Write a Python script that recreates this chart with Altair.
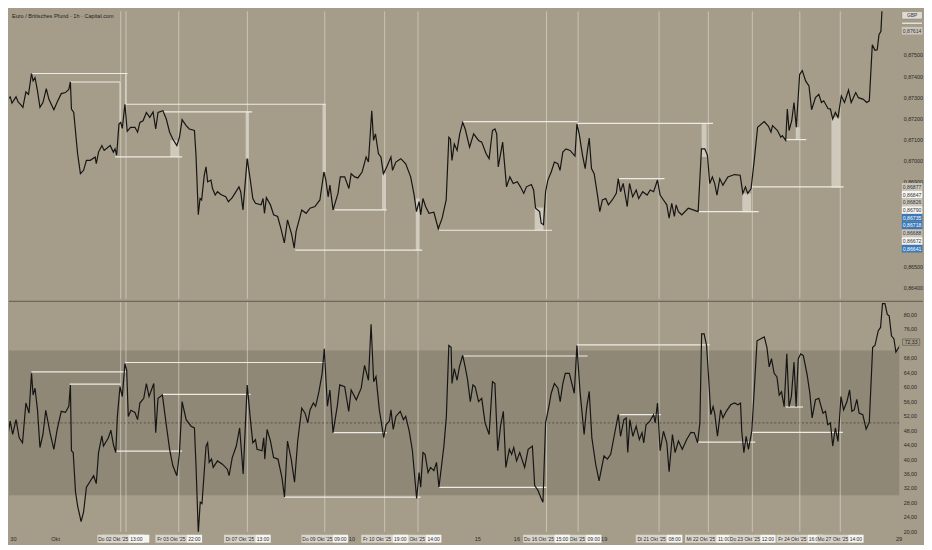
import altair as alt
import pandas as pd

# EUR/GBP 1h (Capital.com).
# bar = hourly bar index counted from the left edge of the chart
price_bar = [
    0, 1.5, 3.8, 5.2, 6.2, 8.5, 9.7, 10.9, 12.4, 14.1, 15.6, 17.3, 18.2, 19.3, 20.7, 22.1, 23.8, 25.7, 27.2, 30,
    31.9, 34.2, 36.6, 38.5, 39.4, 40, 41.3, 43.5, 45.1, 46.9, 48.5, 50.7, 53.5, 54.1, 55.4, 57.3, 58.6, 62, 63.8, 64.8,
    65.7, 67, 68, 68.9, 70.4, 71.7, 73.6, 76.1, 77.6, 78.9, 80.7, 82.6, 84.5, 86.4, 87.9, 89.2, 92, 93.9, 95.8, 97.6,
    99.9, 101.4, 102.9, 105.2, 107, 109.9, 110.8, 112.1, 113.1, 114, 115.5, 116.5, 117.4, 119.3, 120.2, 121.7, 123, 124.9, 127.7, 129.2,
    131.4, 135.2, 136.2, 137.5, 139.9, 141.8, 143.1, 144.6, 147.8, 148.9, 149.7, 150.8, 153.1, 154.9, 157.2, 159, 161, 162.8, 165.2, 166.6,
    167.7, 170.9, 173.4, 175.6, 178.4, 181.2, 183.5, 184.6, 185.9, 186.9, 188.7, 191.5, 192.8, 195.3, 197.7, 199, 201, 202.8, 205.2, 207.5,
    208.8, 210.7, 211.7, 212.8, 214.5, 215.9, 217.3, 219.2, 221.6, 222.5, 224.4, 227.2, 230, 232.8, 234.8, 236.1, 237.6, 238.5, 239.8, 241.3,
    243.2, 246, 248.5, 250.7, 253, 254.5, 255.4,
    256.3, 257.6, 259.2, 260.7, 262.4, 263.8, 266.3, 268.6, 271.4, 273.2, 275.7, 277.4, 279.3, 280.7, 281.7, 282.6, 285.1, 287.3, 289.2, 291.1,
    293.4, 295.2, 297.1, 298.6, 301.4, 302.7, 303.8, 306.1, 307, 308.3, 309.5, 310.8, 312.7, 314.5, 316.5, 317.7, 319.3, 321.1, 323.4, 326.2,
    327.3, 328.6, 330.5, 332, 333.4, 334.3, 335.6, 337.1, 339, 340.3, 341.8, 343.7, 345.2, 347.4, 349.7, 350.8, 352.1, 353.6, 355.9, 357.2,
    359, 361, 362.4, 364.7, 367.2, 369, 370.9, 373.1, 374.6, 376.5, 378.4, 379.7, 381.2, 382.7, 383.7, 385, 386.9, 390.6, 393.4, 396.2,
    398.1, 400, 401.5, 402.8, 404.3, 405.6, 406.9, 408.5, 410.3, 413.1, 416.9, 420.1, 421.6, 423.1, 424.4, 426.3, 428.2, 430, 433.8, 436.2,
    437.6, 438.5, 441.3, 443.2, 444.1, 446, 446.9, 447.9, 449.4, 450.7, 452, 453.9, 455.4, 457.3, 459.2, 460.7, 462.9, 464.8, 466.3, 467.6,
    470, 471.4, 472.7, 474.2, 475.7, 477.6, 479.4, 481.7, 483.2, 485.8, 487.3, 490.1, 492, 493.5, 495.2, 496.7, 498, 499, 500.1, 501,
]
price_val = [
    0.87314, 0.87314, 0.87290, 0.87302, 0.87272, 0.87302, 0.87278, 0.87267, 0.87252, 0.87325, 0.87314, 0.87412, 0.87377, 0.87392, 0.87330, 0.87252, 0.87275, 0.87341, 0.87290, 0.87241,
    0.87278, 0.87317, 0.87322, 0.87337, 0.87372, 0.87244, 0.87228, 0.87033, 0.86939, 0.86955, 0.87002, 0.87002, 0.87018, 0.86986, 0.87041, 0.87072, 0.87049, 0.87072, 0.87041, 0.87056,
    0.87026, 0.87173, 0.87181, 0.87153, 0.87267, 0.87139, 0.87158, 0.87158, 0.87135, 0.87181, 0.87189, 0.87228, 0.87205, 0.87231, 0.87150, 0.87228, 0.87236, 0.87197, 0.87135, 0.87103,
    0.87072, 0.87111, 0.87194, 0.87166, 0.87150, 0.87143, 0.87026, 0.86745, 0.86822, 0.86815, 0.86932, 0.86971, 0.86901, 0.86909, 0.86869, 0.86838, 0.86854, 0.86841, 0.86830, 0.86807,
    0.86826, 0.86877, 0.86854, 0.86768, 0.87010, 0.86901, 0.86822, 0.86799, 0.86792, 0.86822, 0.86752, 0.86826, 0.86792, 0.86745, 0.86737, 0.86682, 0.86612, 0.86721, 0.86651, 0.86588,
    0.86667, 0.86768, 0.86752, 0.86776, 0.86784, 0.86815, 0.86947, 0.86909, 0.86830, 0.86885, 0.86768, 0.86846, 0.86924, 0.86924, 0.86869, 0.86939, 0.86924, 0.86919, 0.86947, 0.87018,
    0.86994, 0.87236, 0.87096, 0.87127, 0.87033, 0.87018, 0.86939, 0.86971, 0.87018, 0.86955, 0.86994, 0.87010, 0.86986, 0.86924, 0.86838, 0.86760, 0.86807, 0.86745, 0.86822, 0.86784,
    0.86752, 0.86757, 0.86679, 0.86729, 0.86815, 0.87111, 0.87103,
    0.87002, 0.87080, 0.87049, 0.87127, 0.87181, 0.87150, 0.87064, 0.87127, 0.87096, 0.87088, 0.87033, 0.87010, 0.87143, 0.87150, 0.87127, 0.86971, 0.87088, 0.86877, 0.86924, 0.86893,
    0.86901, 0.86877, 0.86846, 0.86877, 0.86888, 0.86862, 0.86776, 0.86760, 0.86705, 0.86698, 0.86854, 0.86909, 0.86947, 0.86994, 0.86986, 0.86955, 0.87041, 0.87056, 0.87049, 0.87022,
    0.87173, 0.87127, 0.87026, 0.86963, 0.87056, 0.87107, 0.86963, 0.86939, 0.86838, 0.86760, 0.86815, 0.86822, 0.86792, 0.86815, 0.86846, 0.86916, 0.86854, 0.86893, 0.86784, 0.86893,
    0.86830, 0.86862, 0.86822, 0.86854, 0.86838, 0.86862, 0.86854, 0.86909, 0.86838, 0.86815, 0.86792, 0.86729, 0.86799, 0.86737, 0.86792, 0.86760, 0.86745, 0.86776, 0.86768, 0.86760,
    0.87056, 0.87056, 0.87026, 0.86893, 0.86924, 0.86893, 0.86838, 0.86916, 0.86885, 0.86924, 0.86935, 0.86932, 0.86846, 0.86877, 0.86846, 0.86869, 0.87010, 0.87158, 0.87185, 0.87163,
    0.87135, 0.87166, 0.87143, 0.87111, 0.87119, 0.87096, 0.87244, 0.87143, 0.87189, 0.87275, 0.87158, 0.87407, 0.87426, 0.87377, 0.87353, 0.87241, 0.87298, 0.87314, 0.87275, 0.87283,
    0.87247, 0.87244, 0.87197, 0.87228, 0.87205, 0.87306, 0.87275, 0.87334, 0.87275, 0.87322, 0.87298, 0.87290, 0.87275, 0.87283, 0.87548, 0.87522, 0.87524, 0.87595, 0.87611, 0.87760,
]

# RSI(14)
rsi_bar = [
    0, 1.5, 2.8, 4.1, 5.2, 6.6, 8.5, 10.3, 12.2, 14.1, 15.9, 17.3, 18.2, 19.3, 20.7, 22.1, 23.8, 25.4, 27.8, 30,
    31.9, 34.2, 36.6, 38.5, 39.4, 40, 41, 42.3, 43.6, 45.5, 46.9, 48.5, 50.3, 52.6, 54.1, 55.4, 57.3, 58.2, 61, 62.4,
    63.8, 65.2, 66.1, 67.6, 68.9, 70.4, 71.4, 72.3, 73.8, 76.1, 77.6, 78.9, 81.1, 82.6, 84.1, 86.8, 87.9, 89.2, 91.7, 93.9,
    95.8, 97.6, 99.9, 101.4, 102.9, 105.2, 108, 109.9, 110.8, 112.1, 113.2, 114.2, 116.5, 117.4, 118.3, 119.6, 120.6, 123, 125.8, 128.6,
    129.6, 131.4, 133.7, 135.6, 137.6, 139.9, 141.8, 143.1, 144.6, 145.5, 148.3, 149.3, 149.9, 151.2, 153.1, 154.9, 157.4, 159.6, 161.1, 162.8,
    164.9, 166.8, 168.6, 170.9, 172.8, 174.3, 175.6, 177.5, 178.8, 180.7, 182.5, 183.7, 185.5, 186.9, 188.7, 191.2, 192.5, 195.3, 197.6, 199,
    201.9, 204.7, 206.6, 208.8, 210.3, 211.8, 213.1, 215, 217.5, 218.8, 220.7, 221.6, 222.9, 224.4, 226.9, 228.7, 230, 232, 233.8, 236.2,
    237.6, 238.5, 239.8, 241, 242.7, 244.1, 246, 247.5, 248.9, 251.7, 253.1, 254.5, 255.8, 256.3, 257.6, 259.2, 260.5, 262.4, 263.8, 265.2,
    266.7, 268.2, 269.5, 271.4, 273.2, 275.1, 277.4, 279.3, 280.7, 282.3, 284, 285.5, 286.9, 288.9, 290.2, 291.4, 293, 294.8, 297.6, 299.6,
    302, 303.3, 305.2, 307, 308, 309.5, 311.4, 312.7, 314.5, 316.5, 317.8, 319.3, 320.7, 323, 325.8, 327.3, 329, 331.4, 332.8, 334.3,
    335.8, 338, 339.9, 342.7, 344.6, 346.5, 348.3, 350.8, 352.1, 354, 355.3, 356.2, 357.4, 359.1, 361, 362.8, 364.3, 365.3, 366.6, 368.6,
    370.9, 371.8, 373.1, 374.6, 376.5, 378.4, 379.7, 381.6, 383.1, 385, 387.2, 389.7, 392.1, 394, 395.9, 397.2, 398.2, 399.6, 401, 402.3,
    403.4, 404.7, 405.6, 407.2, 409, 410.3, 412.2, 414.7, 416.9, 418.8, 420.3, 421, 422.2, 423.5, 424.8, 426.7, 428.2, 429.7, 431.6, 433.8,
    435.3, 436.6, 437.9, 439.4, 441, 442.3, 443.6, 445.1, 446.6, 447.9, 449.2, 450.7, 451.9, 453.1, 454.5, 456, 458.2, 459.7, 461, 462.9,
    464.8, 467.2, 468.6, 469.9, 471.4, 472.7, 474.2, 475.7, 477.4, 478.9, 480.8, 482.3, 483.6, 484.9, 486.4, 487.7, 489.8, 491.7, 493.5, 495.4,
    496.7, 498.6, 499.9, 501, 502.4, 503.7, 504.8, 506.1, 507.5, 508.6, 510.4, 512.3,
]
rsi_val = [
    51.8, 51.4, 49.5, 47.3, 50.5, 46.8, 50.9, 45.9, 44.5, 55.5, 52.7, 63.7, 57.7, 59.6, 53.6, 43.2, 46.8, 53.5, 47.3, 42.7,
    48.2, 53.2, 52.9, 54.6, 60.5, 42.3, 41.8, 30.9, 26.8, 22.7, 25.4, 32.2, 33.6, 35.4, 33.2, 41.8, 46.4, 43.6, 45.9, 48,
    44.1, 41.8, 51.8, 60, 57.3, 66.4, 64.6, 51.8, 53.5, 52.9, 50.9, 55.5, 56.8, 60.9, 57.3, 60.9, 47.3, 56.8, 57.7, 49.5,
    42.7, 38.2, 35.4, 41.8, 55.9, 50.9, 49.1, 48.6, 38.2, 19.5, 28.1, 27.7, 43.6, 44.5, 39.1, 40, 37.7, 39.5, 38.6, 37.2,
    35.4, 40.4, 43.6, 48.6, 35.9, 60.5, 50.5, 44.5, 45.4, 42.7, 42.3, 45.9, 40, 48.2, 45, 40.4, 40, 35, 29.5, 45,
    40, 33.6, 45, 54.1, 52.7, 50, 53.6, 55.5, 54.6, 58.7, 63.7, 70.5, 54.6, 59.1, 47.3, 55, 60.5, 60, 53.2, 59.1,
    56.4, 59.6, 65.9, 61.8, 77.3, 61.4, 62.8, 53.6, 45.9, 49.5, 50.5, 53.6, 48.2, 51.8, 53.2, 50.9, 51.8, 47.7, 42.3, 29.1,
    36.3, 32.2, 41.8, 41.3, 36.3, 37.7, 36.8, 39.1, 32.2, 43.6, 51.8, 71.4, 70.9, 60.9, 65, 61.8, 65.5, 68.7, 65.5, 61.8,
    55.9, 60.5, 60, 55.9, 56.8, 50, 46.8, 61.4, 60.9, 42.3, 49.5, 53.2, 37.7, 42.7, 41.3, 43.2, 39.5, 41.8, 37.7, 42.7,
    43.6, 32.7, 31.3, 29.1, 28.1, 50, 54.6, 58.2, 60.9, 59.6, 55.9, 60.9, 63.7, 63.7, 58.2, 71.4, 59.1, 46.8, 54.1, 58.7,
    45.9, 38.5, 34, 40.9, 40, 41.3, 45.9, 52.3, 46.3, 50.9, 51.4, 41.8, 50.9, 46.3, 49.1, 45.4, 47.3, 44.5, 49.5, 50.4,
    52.3, 50, 55.5, 42.3, 47.7, 44.5, 36.5, 46.8, 41.8, 45, 42.7, 45.4, 47.4, 47.3, 44.5, 50, 74.6, 74.6, 71.4, 61.4,
    52.3, 54.5, 52.7, 46.3, 53.6, 51.4, 53.2, 55, 55.5, 55, 55.5, 47.7, 41.8, 46.3, 42.7, 47.7, 60, 72.7, 73.2, 73.8,
    70.9, 65.5, 67.8, 63.7, 62.7, 57.7, 58.6, 54.5, 69.1, 54.5, 57.3, 66.8, 54.5, 67.7, 69.1, 68.6, 63.2, 58.2, 51.4, 56.4,
    56.8, 52.7, 53.2, 49.5, 50, 43.6, 48.6, 44.9, 57.3, 53.6, 55.9, 59.1, 53.2, 53.6, 56.5, 52.7, 52.3, 48.3, 50.2, 70.9,
    71.4, 75.5, 76.4, 83, 83, 80, 79.6, 74.1, 73.2, 69.6, 71, 72.7,
]

# drawn horizontal levels on price (start bar, end bar, price)
lvl_start = [17.3, 39.4, 70.4, 91.8, 64.8, 189.7, 167.2, 248.9, 262.4, 327.7, 351.2, 396.2, 446, 426.3]
lvl_end = [71.9, 67.6, 184.6, 142.7, 102.9, 219.2, 239.4, 313.2, 327.7, 404.7, 377.1, 430.6, 457.7, 478.9]
lvl_price = [0.87412, 0.87372, 0.87267, 0.87231, 0.87018, 0.86768, 0.86578, 0.86672, 0.87185, 0.87177, 0.86916, 0.86760, 0.87100, 0.86877]

# shaded boxes on price
box_start = [67.2, 70.4, 96.2, 139, 182.7, 216.5, 235.7, 303.3, 398.2, 421.3, 451.7, 472]
box_end = [68.2, 71.4, 101, 140.9, 184.6, 218.8, 237.9, 308.3, 401, 426.3, 453.9, 477]
box_top = [0.87372, 0.87412, 0.87097, 0.87231, 0.87267, 0.86939, 0.86822, 0.86779, 0.87173, 0.86846, 0.87158, 0.87205]
box_bottom = [0.87173, 0.87267, 0.87018, 0.87010, 0.86947, 0.86768, 0.86578, 0.86672, 0.87018, 0.86757, 0.87100, 0.86873]

# drawn horizontal levels on RSI
rlvl_start = [17.3, 39, 70.4, 92, 64.8, 161.1, 188.7, 262.4, 248.9, 327.3, 351.6, 396.2, 446, 426.3]
rlvl_end = [71.4, 68, 184.4, 141.8, 102.9, 238.5, 219.3, 333.4, 309.9, 402.8, 375.1, 428.7, 455.8, 478.5]
rlvl_val = [64.1, 60.7, 66.7, 57.9, 42.2, 29.5, 47.3, 68.5, 32.2, 71.6, 52.3, 44.7, 54.4, 47.4]

# price scale tags on the right
tag_price = [0.87614, 0.86877, 0.86847, 0.86826, 0.86790, 0.86735, 0.86718, 0.86688, 0.86672, 0.86641]
tag_kind = ["grey", "grey", "white", "grey", "white", "blue", "blue", "grey", "white", "blue"]

# event markers, in drawing order (later ones sit on top); text is what stays visible
event_bar = [71, 68, 101, 140, 184, 237, 218, 328, 310, 374, 402, 427, 454, 477]
event_day = ["", "Do 02 Okt '25", "Fr 03 Okt '25", "Di 07 Okt '25", "Do 09 Okt '25",
             "Okt '25", "Fr 10 Okt '25", "Okt '25", "Do 16 Okt '25", "Di 21 Okt '25",
             "Mi 22 Okt '25", "Do 23 Okt '25", "Fr 24 Okt '25", "Mo 27 Okt '25"]
event_time = ["", "13:00", "22:00", "13:00", "09:00", "14:00", "19:00", "09:00", "15:00",
              "08:00", "11:00", "12:00", "16:0", "14:00"]
# which part of a box is covered by its neighbour drawn on top
event_cover = ["", "", "", "", "", "left", "", "left", "", "", "", "", "right", ""]

tick_bar = [7, 31, 199.4, 271, 293.2, 342.8, 510.4]
tick_text = ["30", "Okt", "10", "15", "16", "19", "29"]

rsi_last = 72.33

#layout / style
W = 898
H_P = 290
H_R = 233
BG = "#a59d89"
BAND = "#8f8877"
INK = "#151515"
FONT = "Liberation Sans"
P_DOM = [0.863484, 0.877056]
R_DOM = [19.9, 83.77]
HALF = 13.25   # half width of a date box, in bars
SPLIT = 4.5    # where the white time part starts, in bars from the centre

xs = alt.Scale(domain=[4.5, 510.5], nice=False, zero=False)
ps = alt.Scale(domain=P_DOM, nice=False, zero=False)
rs = alt.Scale(domain=R_DOM, nice=False, zero=False)
TAG_PATH = "M-1,-0.37L1,-0.37L1,0.37L-1,0.37Z"


def xq(f):
    return alt.X(f + ":Q", scale=xs, axis=None)


def right_axis(values, fmt):
    return alt.Axis(orient="right", values=values, labelExpr="replace(format(datum.value, '" + fmt + "'), '.', ',')",
                    ticks=False, domain=False, grid=False, title=None, labelFont=FONT, labelFontSize=5.4,
                    labelColor="#2a2a2a", labelPadding=4, labelOverlap=False)


vl_df = pd.DataFrame({"bar": sorted(event_bar)})
vlines = alt.Chart(vl_df).mark_rule(color="#e2ddd2", opacity=0.6, strokeWidth=1).encode(x=xq("bar"))

# ---- price pane ----
price_df = pd.DataFrame({"bar": price_bar, "price": price_val})
lvl_df = pd.DataFrame({"s": lvl_start, "e": lvl_end, "p": lvl_price})
box_df = pd.DataFrame({"s": box_start, "e": box_end, "t": box_top, "b": box_bottom})

# stack the price tags like the price scale does
gap = 7.8 * (P_DOM[1] - P_DOM[0]) / H_P
disp = []
for p in tag_price:
    if disp and p > disp[-1] - gap:
        p = disp[-1] - gap
    disp.append(p)
tag_df = pd.DataFrame({"pos": disp, "kind": tag_kind,
                       "label": [f"{p:.5f}".replace(".", ",") for p in tag_price]})

boxes = alt.Chart(box_df).mark_rect(color="#d6d1c5", opacity=0.85).encode(
    x=xq("s"), x2="e:Q", y=alt.Y("t:Q", scale=ps, axis=None), y2="b:Q")
levels = alt.Chart(lvl_df).mark_rule(color="#eeebe4", strokeWidth=1.2).encode(
    x=xq("s"), x2="e:Q", y=alt.Y("p:Q", scale=ps, axis=None))
pline = alt.Chart(price_df).mark_line(color=INK, strokeWidth=1.2, clip=True).encode(
    x=xq("bar"),
    y=alt.Y("price:Q", scale=ps,
            axis=right_axis([0.864, 0.865, 0.869, 0.870, 0.871, 0.872, 0.873, 0.874, 0.875], ".5f")))
title = alt.Chart(pd.DataFrame({"t": ["Euro / Britisches Pfund · 1h · Capital.com"]})).mark_text(
    align="left", baseline="middle", font=FONT, fontSize=5.6, color="#222222").encode(
    x=alt.value(3), y=alt.value(5), text="t:N")
tag_bg = alt.Chart(tag_df).mark_point(shape=TAG_PATH, filled=True, size=430, opacity=1).encode(
    x=alt.value(W + 13), y=alt.Y("pos:Q", scale=ps, axis=None),
    color=alt.Color("kind:N", legend=None,
                    scale=alt.Scale(domain=["grey", "white", "blue"], range=["#cbc6bb", "#f5f4f1", "#3a78b6"])))
tag_txt = alt.Chart(tag_df).mark_text(font=FONT, fontSize=5.2, baseline="middle").encode(
    x=alt.value(W + 13), y=alt.Y("pos:Q", scale=ps, axis=None), text="label:N",
    color=alt.condition("datum.kind == 'blue'", alt.value("#ffffff"), alt.value("#333333")))
cur = pd.DataFrame({"t": ["GBP"]})
gbp_bg = alt.Chart(cur).mark_point(shape=TAG_PATH, filled=True, size=430, color="#f7f6f3",
                                   stroke="#6a6558", strokeWidth=0.5).encode(x=alt.value(W + 13), y=alt.value(4))
gbp_txt = alt.Chart(cur).mark_text(font=FONT, fontSize=5, color="#333333", baseline="middle").encode(
    x=alt.value(W + 13), y=alt.value(4), text="t:N")
gbp_line = alt.Chart(cur).mark_rule(color="#f4f2ee", strokeWidth=1.2).encode(
    x=alt.value(W + 3), x2=alt.value(W + 23), y=alt.value(12))

price_chart = alt.layer(
    vlines, boxes, levels, pline, title, tag_bg, tag_txt, gbp_bg, gbp_txt, gbp_line
).resolve_axis(y="independent").properties(width=W, height=H_P)

# ---- RSI pane ----
rsi_df = pd.DataFrame({"bar": rsi_bar, "rsi": rsi_val})
rlvl_df = pd.DataFrame({"s": rlvl_start, "e": rlvl_end, "v": rlvl_val})
one = pd.DataFrame({"hi": [70], "lo": [30], "mid": [50], "last": [rsi_last],
                    "label": [f"{rsi_last:.2f}".replace(".", ",")]})

band = alt.Chart(one).mark_rect(color=BAND).encode(
    x=alt.value(0), x2=alt.value(W), y=alt.Y("hi:Q", scale=rs, axis=None), y2="lo:Q")
mid = alt.Chart(one).mark_rule(color="#4a463d", strokeDash=[2, 2], strokeWidth=0.8).encode(
    y=alt.Y("mid:Q", scale=rs, axis=None))
rlevels = alt.Chart(rlvl_df).mark_rule(color="#eeebe4", strokeWidth=1.2).encode(
    x=xq("s"), x2="e:Q", y=alt.Y("v:Q", scale=rs, axis=None))
rline = alt.Chart(rsi_df).mark_line(color=INK, strokeWidth=1.2, clip=True).encode(
    x=xq("bar"),
    y=alt.Y("rsi:Q", scale=rs,
            axis=right_axis([20, 24, 28, 32, 36, 40, 44, 48, 52, 56, 60, 64, 68, 76, 80], ".2f")))
sep = alt.Chart(one).mark_rule(color="#6f6959", strokeWidth=1.2).encode(
    x=alt.value(0), x2=alt.value(W + 24), y=alt.value(0.5))
rtag = alt.Chart(one).mark_point(shape=TAG_PATH, filled=False, size=300, color="#3a372f", strokeWidth=0.6).encode(
    x=alt.value(W + 12), y=alt.Y("last:Q", scale=rs, axis=None))
rtag_txt = alt.Chart(one).mark_text(font=FONT, fontSize=5.2, color="#222222", baseline="middle").encode(
    x=alt.value(W + 12), y=alt.Y("last:Q", scale=rs, axis=None), text="label:N")

ticks = alt.Chart(pd.DataFrame({"bar": tick_bar, "t": tick_text})).mark_text(
    font=FONT, fontSize=5.6, color="#2a2a2a", baseline="middle").encode(
    x=xq("bar"), y=alt.value(H_R + 7), text="t:N")

# date boxes under the event lines, one small layer each so the overlap order holds
TXT = dict(font=FONT, fontSize=5, color="#2a2a2a", baseline="middle")
ev_layers = []
for b, d, t, cover in zip(event_bar, event_day, event_time, event_cover):
    row = pd.DataFrame({"b": [b], "x1": [b - HALF], "x2": [b + SPLIT], "x3": [b + HALF],
                        "tx": [b + (SPLIT + HALF) / 2], "d": [d], "t": [t]})
    base = alt.Chart(row)
    ev_layers += [
        base.mark_rect(color="#d9d5cc").encode(x=xq("x1"), x2="x2:Q", y=alt.value(H_R + 3), y2=alt.value(H_R + 11)),
        base.mark_rect(color="#f6f5f2").encode(x=xq("x2"), x2="x3:Q", y=alt.value(H_R + 3), y2=alt.value(H_R + 11)),
    ]
    if d:
        if cover == "left":
            # only the tail of the date shows next to the box on top
            day = base.mark_text(align="right", dx=-1, **TXT).encode(x=xq("x2"), y=alt.value(H_R + 7), text="d:N")
        else:
            day = base.mark_text(dx=-7.5, **TXT).encode(x=xq("b"), y=alt.value(H_R + 7), text="d:N")
        ev_layers.append(day)
    if t:
        if cover == "right":
            tm = base.mark_text(align="left", dx=1, **TXT).encode(x=xq("x2"), y=alt.value(H_R + 7), text="t:N")
        else:
            tm = base.mark_text(**TXT).encode(x=xq("tx"), y=alt.value(H_R + 7), text="t:N")
        ev_layers.append(tm)

rsi_chart = alt.layer(
    band, mid, vlines, rlevels, rline, sep, rtag, rtag_txt, ticks, *ev_layers
).resolve_axis(y="independent").properties(width=W, height=H_R)

chart = alt.vconcat(price_chart, rsi_chart, spacing=0).properties(
    padding=0, background=BG
).configure_view(stroke=None)

chart.save("out.html", embed_options={"renderer": "svg", "actions": False})
